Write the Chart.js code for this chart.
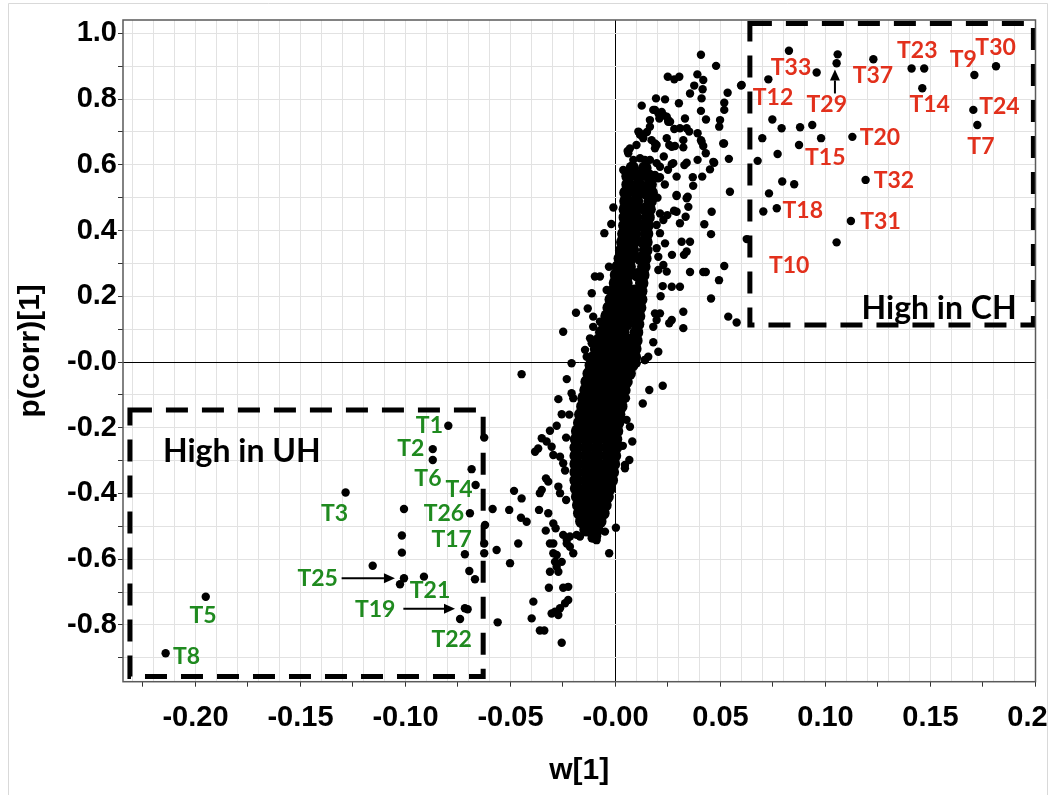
<!DOCTYPE html>
<html>
<head>
<meta charset="utf-8">
<script src="https://cdn.jsdelivr.net/npm/chart.js@4.4.0/dist/chart.umd.min.js"></script>
<style>
  html, body { margin: 0; padding: 0; background: #fff; }
  #wrap { width: 1058px; height: 795px; }
</style>
</head>
<body>
<div id="wrap"><canvas id="splot" width="1058" height="795"></canvas></div>
<script>
// tick labels
const xTickVals = [-0.20, -0.15, -0.10, -0.05, 0, 0.05, 0.10, 0.15, 0.20];
const xTickLabels = ["-0.20", "-0.15", "-0.10", "-0.05", "-0.00", "0.05", "0.10", "0.15", "0.20"];
const yTickVals = [1.0, 0.8, 0.6, 0.4, 0.2, 0, -0.2, -0.4, -0.6, -0.8];
const yTickLabels = ["1.0", "0.8", "0.6", "0.4", "0.2", "-0.0", "-0.2", "-0.4", "-0.6", "-0.8"];

// variables inside / near the "High in UH" box  [w[1], p(corr)[1]]
const uhPoints = [
  [-0.0796,-0.194],[-0.0625,-0.230],[-0.0870,-0.265],[-0.0870,-0.298],[-0.0685,-0.326],[-0.0666,-0.374],
  [-0.1285,-0.397],[-0.1007,-0.447],[-0.0693,-0.460],[-0.0585,-0.447],[-0.0621,-0.496],[-0.1017,-0.528],
  [-0.1017,-0.580],[-0.0717,-0.585],[-0.0625,-0.582],[-0.0625,-0.552],[-0.0566,-0.572],[-0.1156,-0.620],
  [-0.0696,-0.636],[-0.0669,-0.661],[-0.1007,-0.658],[-0.1026,-0.676],[-0.0912,-0.653],[-0.0704,-0.752],
  [-0.0717,-0.749],[-0.0740,-0.782],[-0.0561,-0.792],[-0.1951,-0.714],[-0.2142,-0.886]
];
const midPoints = [
  [-0.0447,-0.037],[-0.0483,-0.392],[-0.0447,-0.415],[-0.0506,-0.450],[-0.0450,-0.474],[-0.0423,-0.486],
  [-0.0463,-0.552],[-0.0502,-0.612],[-0.0391,-0.729],[-0.0399,-0.780]
];
// lower tail of the S
const tailPoints = [
  [-0.0232,-0.052],[-0.0209,-0.095],[-0.0201,-0.110],[-0.0272,-0.113],[-0.0256,-0.159],[-0.0280,-0.194],
  [-0.0312,-0.209],[-0.0351,-0.232],[-0.0328,-0.242],[-0.0304,-0.258],[-0.0383,-0.273],[-0.0368,-0.263],
  [-0.0296,-0.283],[-0.0264,-0.288],[-0.0249,-0.308],[-0.0331,-0.354],[-0.0320,-0.364],[-0.0351,-0.389],
  [-0.0360,-0.399],[-0.0272,-0.379],[-0.0264,-0.399],[-0.0364,-0.450],[-0.0320,-0.460],[-0.0296,-0.491],
  [-0.0285,-0.506],[-0.0332,-0.513],[-0.0249,-0.526],[-0.0217,-0.531],[-0.0185,-0.526],[-0.0169,-0.531],
  [-0.0113,-0.536],[-0.0090,-0.542],[-0.0050,-0.516],[-0.0232,-0.552],[-0.0296,-0.552],[-0.0312,-0.552],
  [-0.0217,-0.562],[-0.0201,-0.582],[-0.0232,-0.541],[-0.0296,-0.582],[-0.0280,-0.587],[-0.0288,-0.608],
  [-0.0280,-0.623],[-0.0272,-0.638],[-0.0312,-0.638],[-0.0256,-0.608],[-0.0030,-0.582],[0.0002,-0.504],
  [-0.0317,-0.687],[-0.0249,-0.687],[-0.0225,-0.684],[-0.0225,-0.724],[-0.0240,-0.734],[-0.0264,-0.749],
  [-0.0288,-0.760],[-0.0304,-0.765],[-0.0272,-0.770],[-0.0360,-0.817],[-0.0339,-0.817],[-0.0256,-0.854],
  [0.0225,-0.072],[0.0161,-0.085],[0.0130,-0.126],[0.0053,-0.176],[0.0069,-0.197],[0.0080,-0.242],
  [0.0066,-0.298],[0.0045,-0.313],[0.0045,-0.323],[0.0101,-0.004],[0.0140,0.006],[0.0069,-0.014],
  [-0.0220,-0.160],[-0.0235,-0.230],[-0.0240,-0.330],[-0.0235,-0.420],[0.0050,-0.110],[0.0035,-0.255]
];
// upper half of the S, loose points
const upperPoints = [
  [-0.0053,0.392],[-0.0249,0.092],[-0.0188,0.150],[-0.0132,0.163],[-0.0098,0.260],[-0.0074,0.260],
  [-0.0113,0.209],[-0.0031,0.290],[-0.0042,0.219],[-0.0106,0.138],[-0.0106,0.107],[-0.0121,0.072],
  [-0.0113,0.057],[-0.0145,0.037],[-0.0137,0.016],[-0.0209,-0.004],[-0.0058,0.107],[-0.0074,0.123],
  [0.0407,0.935],[0.0479,0.901],[0.0598,0.841],[0.0249,0.868],[0.0280,0.860],[0.0304,0.868],
  [0.0390,0.875],[0.0418,0.858],[0.0375,0.841],[0.0415,0.830],[0.0355,0.817],[0.0410,0.802],
  [0.0534,0.819],[0.0518,0.789],[0.0518,0.767],[0.0125,0.780],[0.0193,0.802],[0.0236,0.799],
  [0.0302,0.787],[0.0407,0.764],[0.0431,0.738],[0.0498,0.736],[0.0494,0.716],[0.0180,0.767],
  [0.0220,0.761],[0.0209,0.741],[0.0251,0.736],[0.0164,0.736],[0.0164,0.716],[0.0331,0.741],
  [0.0280,0.709],[0.0339,0.711],[0.0351,0.701],[0.0113,0.698],[0.0132,0.685],[0.0172,0.675],
  [0.0188,0.665],[0.0244,0.681],[0.0256,0.660],[0.0283,0.657],[0.0323,0.653],[0.0391,0.696],
  [0.0407,0.675],[0.0418,0.657],[0.0517,0.665],[0.0430,0.635],[0.0540,0.618],[0.0069,0.650],
  [0.0058,0.642],[0.0391,0.615],[0.0339,0.606],[0.0328,0.599],[0.0268,0.602],[0.0470,0.606],
  [0.0450,0.586],[0.0212,0.562],[0.0291,0.564],[0.0368,0.562],[0.0370,0.536],[0.0413,0.564],
  [0.0545,0.518],[0.0291,0.508],[0.0344,0.503],[0.0188,0.767],[0.0244,0.746],[0.0251,0.731],
  [0.0410,0.670],[0.0513,0.665],[0.0466,0.609],
  [0.0204,0.757],[0.0228,0.751],[0.0260,0.731],[0.0109,0.701],[0.0117,0.691],[0.0132,0.681],
  [0.0196,0.660],[0.0188,0.650],[0.0268,0.655],[0.0061,0.635],[0.0085,0.615],[0.0117,0.620],
  [0.0140,0.615],[0.0164,0.615],[0.0196,0.605],[0.0212,0.594],[0.0037,0.584],[0.0061,0.569],
  [0.0117,0.574],[0.0149,0.574],[0.0188,0.569],[0.0204,0.559],[0.0275,0.605],[0.0307,0.711],
  [0.0323,0.675],[0.0150,0.700],[0.0100,0.660],[0.0230,0.625],[0.0250,0.585],[0.0235,0.540],
  [0.0458,0.457],[0.0423,0.419],[0.0455,0.389],[0.0518,0.292],[0.0493,0.249],[0.0455,0.193],
  [0.0537,0.138],[0.0577,0.120],[0.0323,0.153],[0.0323,0.103],[0.0418,0.274],[0.0430,0.274],
  [0.0355,0.274],[0.0268,0.229],[0.0307,0.229],[0.0225,0.231],[0.0269,0.326],[0.0315,0.366],
  [0.0355,0.366],[0.0339,0.336],[0.0326,0.326],[0.0307,0.422],[0.0291,0.457],[0.0279,0.460],
  [0.0291,0.505],[0.0339,0.498],[0.0347,0.472],[0.0334,0.442],[0.0247,0.447],[0.0204,0.031],
  [0.0256,0.118],[0.0268,0.128],[0.0188,0.148],[0.0212,0.452],[0.0228,0.432],[0.0196,0.417],
  [0.0212,0.392],[0.0236,0.361],[0.0196,0.346],[0.0204,0.320],[0.0228,0.295],[0.0244,0.275],
  [0.0204,0.280],[0.0212,0.148],[0.0196,0.128],[0.0180,0.107],[0.0140,0.006],[0.0156,0.016],
  [0.0200,0.500],[0.0215,0.200],[0.0180,0.060],[-0.0010,0.470],[-0.0020,0.420]
];
// variables inside the "High in CH" box
const chPoints = [
  [0.0826,0.947],[0.0958,0.881],[0.0728,0.860],[0.0601,0.843],[0.1058,0.936],[0.1053,0.909],
  [0.1228,0.921],[0.1410,0.893],[0.1470,0.893],[0.1461,0.833],[0.1709,0.873],[0.1812,0.900],
  [0.1704,0.767],[0.1723,0.721],[0.0747,0.738],[0.0791,0.711],[0.0879,0.714],[0.0937,0.721],
  [0.0699,0.681],[0.0979,0.681],[0.1128,0.685],[0.0874,0.660],[0.0772,0.633],[0.0677,0.612],
  [0.1191,0.554],[0.0794,0.549],[0.0851,0.541],[0.0731,0.513],[0.0768,0.468],[0.0704,0.458],
  [0.1121,0.429],[0.1053,0.364],[0.0625,0.374]
];
// dense core of the S: one row per p(corr) level, w[1] values along the row
const coreRows = [
  [0.590, [0.008, 0.014]],
  [0.565, [0.006, 0.011, 0.016]],
  [0.540, [0.006, 0.011, 0.0165]],
  [0.515, [0.005, 0.010, 0.0145, 0.017]],
  [0.490, [0.005, 0.010, 0.0165]],
  [0.465, [0.0047, 0.0095, 0.0145, 0.016]],
  [0.440, [0.0047, 0.0095, 0.0155]],
  [0.415, [0.0045, 0.009, 0.0135, 0.015]],
  [0.390, [0.004, 0.009, 0.0148]],
  [0.365, [0.0035, 0.0085, 0.0135, 0.0145]],
  [0.340, [0.003, 0.008, 0.0144]],
  [0.315, [0.0023, 0.007, 0.012, 0.014]],
  [0.290, [0.0013, 0.0065, 0.0135]],
  [0.265, [0.0005, 0.0055, 0.0105, 0.013]],
  [0.240, [0.000, 0.005, 0.0125]],
  [0.215, [-0.001, 0.004, 0.009, 0.012]],
  [0.190, [-0.002, 0.003, 0.008, 0.012]],
  [0.165, [-0.003, 0.002, 0.007, 0.0115]],
  [0.140, [-0.004, 0.001, 0.006, 0.011]],
  [0.115, [-0.005, 0.000, 0.005, 0.0105]],
  [0.090, [-0.0065, -0.0015, 0.0035, 0.010]],
  [0.065, [-0.008, -0.003, 0.002, 0.0065, 0.0097]],
  [0.040, [-0.009, -0.004, 0.001, 0.006, 0.0092]],
  [0.015, [-0.010, -0.005, 0.000, 0.005, 0.009]],
  [-0.010, [-0.0115, -0.0065, -0.0015, 0.0035, 0.0077]],
  [-0.035, [-0.0125, -0.0075, -0.0025, 0.0025, 0.0065]],
  [-0.060, [-0.0135, -0.0085, -0.0035, 0.0015, 0.005]],
  [-0.085, [-0.014, -0.009, -0.004, 0.001, 0.004]],
  [-0.110, [-0.015, -0.010, -0.005, 0.000, 0.003]],
  [-0.135, [-0.0155, -0.0105, -0.0055, -0.0005, 0.0025]],
  [-0.160, [-0.0165, -0.0115, -0.0065, -0.0015, 0.0015]],
  [-0.185, [-0.017, -0.012, -0.007, -0.002, 0.001]],
  [-0.210, [-0.018, -0.013, -0.008, -0.003, 0.0005]],
  [-0.235, [-0.0185, -0.0135, -0.0085, -0.0035, 0.000]],
  [-0.260, [-0.0187, -0.0137, -0.0087, -0.0037, 0.000]],
  [-0.285, [-0.0187, -0.0137, -0.0087, -0.0037, -0.0005]],
  [-0.310, [-0.0187, -0.0137, -0.0087, -0.0037, -0.001]],
  [-0.335, [-0.0187, -0.0137, -0.0087, -0.004, -0.0015]],
  [-0.360, [-0.0187, -0.0137, -0.0087, -0.004, -0.002]],
  [-0.385, [-0.0185, -0.0135, -0.0085, -0.0035, -0.003]],
  [-0.410, [-0.018, -0.013, -0.008, -0.004]],
  [-0.435, [-0.0175, -0.0125, -0.0075, -0.005]],
  [-0.460, [-0.017, -0.012, -0.007, -0.006]],
  [-0.485, [-0.016, -0.011, -0.0075]],
  [-0.510, [-0.014, -0.0095, -0.009]],
  [-0.530, [-0.010]]
];

// text labels of the marked variables
const uhNames = ["T1", "T2", "T6", "T4", "T26", "T17", "T3", "T25", "T21", "T19", "T22", "T5", "T8"];
const uhNameW = [-0.0886, -0.0975, -0.0893, -0.0745, -0.0817, -0.0780, -0.1338, -0.1418, -0.0883, -0.1144, -0.0780, -0.1964, -0.2042];
const uhNameP = [-0.192, -0.262, -0.351, -0.386, -0.458, -0.538, -0.458, -0.656, -0.693, -0.751, -0.843, -0.768, -0.894];
const chNames = ["T33", "T12", "T29", "T37", "T23", "T9", "T30", "T14", "T24", "T7", "T20", "T15", "T32", "T18", "T31", "T10"];
const chNameW = [0.0836, 0.0750, 0.1006, 0.1226, 0.1437, 0.1656, 0.1810, 0.1496, 0.1828, 0.1740, 0.1259, 0.0999, 0.1326, 0.0892, 0.1262, 0.0827];
const chNameP = [0.898, 0.807, 0.787, 0.873, 0.950, 0.924, 0.959, 0.787, 0.779, 0.657, 0.684, 0.625, 0.554, 0.462, 0.429, 0.295];

// annotation shapes (data units)
const boxes = [
  { x0: -0.2312, x1: -0.0630, y0: -0.957, y1: -0.146, text: "High in UH", tx: -0.1779, ty: -0.268 },
  { x0: 0.0640, x1: 0.1990, y0: 0.1126, y1: 1.030, text: "High in CH", tx: 0.1541, ty: 0.166 }
];
const arrows = [
  { x0: -0.1304, y0: -0.658, x1: -0.1050, y1: -0.658 },
  { x0: -0.1010, y0: -0.751, x1: -0.0764, y1: -0.751 },
  { x0: 0.1045, y0: 0.817, x1: 0.1045, y1: 0.890 }
];

const GREEN = "#1f8a1f";
const RED = "#e2301c";

const toXY = arr => arr.map(d => ({ x: d[0], y: d[1] }));
const coreData = [];
coreRows.forEach(r => r[1].forEach(w => coreData.push({ x: w, y: r[0] })));
const looseData = toXY([].concat(uhPoints, midPoints, tailPoints, upperPoints, chPoints));

// tick positions: x every 0.005 (grid 0.01, marks 0.025), y every 0.1
const xTicks = [];
for (let i = -46; i <= 40; i++) xTicks.push(Math.round(i * 5) / 1000);
const yTicks = [];
for (let i = -9; i <= 10; i++) yTicks.push(Math.round(i) / 10);

function isMult(v, step) {
  const r = Math.abs(v / step - Math.round(v / step));
  return r < 1e-6;
}
function lookup(v, vals, labels) {
  for (let i = 0; i < vals.length; i++) {
    if (Math.abs(vals[i] - v) < 1e-6) return labels[i];
  }
  return "";
}

const deco = {
  id: "deco",
  beforeDraw(chart) {
    const c = chart.ctx;
    c.save();
    c.fillStyle = "#fff";
    c.fillRect(0, 0, chart.width, chart.height);
    c.restore();
  },
  beforeDatasetsDraw(chart) {
    const c = chart.ctx, xs = chart.scales.x, ys = chart.scales.y;
    c.save();
    c.strokeStyle = "#000";
    c.lineWidth = 5;
    c.setLineDash([22, 14]);
    boxes.forEach(b => {
      const l = xs.getPixelForValue(b.x0), r = xs.getPixelForValue(b.x1);
      const t = ys.getPixelForValue(b.y1), btm = ys.getPixelForValue(b.y0);
      c.strokeRect(l, t, r - l, btm - t);
    });
    c.restore();
  },
  afterDraw(chart) {
    const c = chart.ctx, xs = chart.scales.x, ys = chart.scales.y, a = chart.chartArea;
    c.save();
    // clip the last x label like the original export
    c.fillStyle = "#fff";
    c.fillRect(1048, a.bottom + 2, 10, chart.height);
    // outer light frame
    c.strokeStyle = "#d9d9d9";
    c.lineWidth = 1;
    c.beginPath();
    c.moveTo(8.5, 795); c.lineTo(8.5, 3.5); c.lineTo(1047.5, 3.5); c.lineTo(1047.5, 795);
    c.stroke();
    // plot frame
    c.strokeStyle = "#5a5a5a";
    c.lineWidth = 1.5;
    c.strokeRect(a.left, a.top, a.right - a.left, a.bottom - a.top);

    // box captions
    c.fillStyle = "#000";
    c.font = "bold 32px Lato";
    c.textAlign = "center";
    c.textBaseline = "alphabetic";
    boxes.forEach(b => {
      c.fillText(b.text, xs.getPixelForValue(b.tx), ys.getPixelForValue(b.ty) + 11.5);
    });

    // variable names
    c.font = "bold 23px Lato";
    c.fillStyle = GREEN;
    uhNames.forEach((n, i) => c.fillText(n, xs.getPixelForValue(uhNameW[i]), ys.getPixelForValue(uhNameP[i]) + 8.3));
    c.fillStyle = RED;
    chNames.forEach((n, i) => c.fillText(n, xs.getPixelForValue(chNameW[i]), ys.getPixelForValue(chNameP[i]) + 8.3));

    // arrows
    c.strokeStyle = "#000";
    c.fillStyle = "#000";
    c.lineWidth = 2;
    arrows.forEach(ar => {
      const x0 = xs.getPixelForValue(ar.x0), y0 = ys.getPixelForValue(ar.y0);
      const x1 = xs.getPixelForValue(ar.x1), y1 = ys.getPixelForValue(ar.y1);
      const ang = Math.atan2(y1 - y0, x1 - x0);
      const hl = 11, hw = 5;
      const bx = x1 - hl * Math.cos(ang), by = y1 - hl * Math.sin(ang);
      c.beginPath(); c.moveTo(x0, y0); c.lineTo(bx, by); c.stroke();
      c.beginPath();
      c.moveTo(x1, y1);
      c.lineTo(bx + hw * Math.sin(ang), by - hw * Math.cos(ang));
      c.lineTo(bx - hw * Math.sin(ang), by + hw * Math.cos(ang));
      c.closePath(); c.fill();
    });
    c.restore();
  }
};

const tickFont = { family: "'Liberation Sans', Arial, sans-serif", weight: "bold", size: 29 };
const titleFont = { family: "'Liberation Sans', Arial, sans-serif", weight: "bold", size: 30 };

const mojeSplot = new Chart(document.getElementById("splot"), {
  type: "scatter",
  data: {
    datasets: [
      { label: "core", data: coreData, pointRadius: 6.8, pointHoverRadius: 6.8, backgroundColor: "#000", borderWidth: 0 },
      { label: "vars", data: looseData, pointRadius: 4.2, pointHoverRadius: 4.2, backgroundColor: "#000", borderWidth: 0 }
    ]
  },
  options: {
    responsive: false,
    animation: false,
    layout: { padding: { left: 0, top: 20, right: 22.5, bottom: 0 } },
    plugins: { legend: { display: false }, tooltip: { enabled: false } },
    scales: {
      x: {
        type: "linear",
        min: -0.2345,
        max: 0.2,
        afterBuildTicks: s => { s.ticks = xTicks.map(v => ({ value: v })); },
        afterFit: s => { s.height = 113.3; s.paddingLeft = 0; s.paddingRight = 0; },
        border: { display: false },
        grid: {
          color: ctx => {
            const v = ctx.tick ? ctx.tick.value : 1;
            if (Math.abs(v) < 1e-9) return "#000";
            return isMult(v, 0.01) ? "#e2e2e2" : "rgba(0,0,0,0)";
          },
          tickColor: ctx => (ctx.tick && isMult(ctx.tick.value, 0.025)) ? "#333" : "rgba(0,0,0,0)",
          tickLength: 5
        },
        ticks: {
          autoSkip: false, maxRotation: 0, minRotation: 0, padding: 14, color: "#000", font: tickFont,
          callback: v => lookup(v, xTickVals, xTickLabels)
        },
        title: { display: true, text: "w[1]", color: "#000", font: titleFont, padding: { top: 0, bottom: 6 } }
      },
      y: {
        type: "linear",
        min: -0.9726,
        max: 1.0405,
        afterBuildTicks: s => { s.ticks = yTicks.map(v => ({ value: v })); },
        afterFit: s => { s.width = 123; s.paddingTop = 0; s.paddingBottom = 0; },
        border: { display: false },
        grid: {
          color: ctx => {
            const v = ctx.tick ? ctx.tick.value : 1;
            return Math.abs(v) < 1e-9 ? "#000" : "#e2e2e2";
          },
          tickColor: "#333",
          tickLength: 5
        },
        ticks: {
          autoSkip: false, padding: 1, color: "#000", font: tickFont,
          callback: v => lookup(v, yTickVals, yTickLabels)
        },
        title: { display: true, text: "p(corr)[1]", color: "#000", font: titleFont, padding: { top: 13, bottom: 0 } }
      }
    }
  },
  plugins: [deco]
});
</script>
</body>
</html>
